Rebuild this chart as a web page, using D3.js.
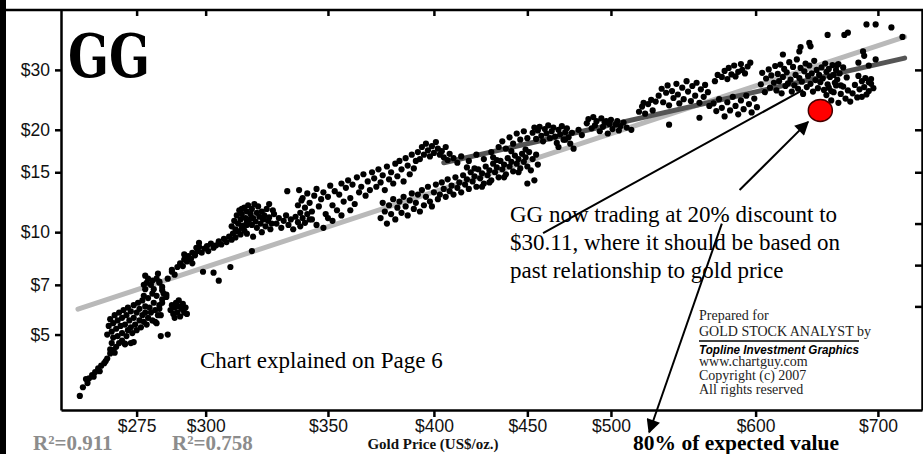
<!DOCTYPE html>
<html><head><meta charset="utf-8">
<script src="https://cdn.jsdelivr.net/npm/d3@7/dist/d3.min.js"></script>
<style>
body{margin:0;background:#fff;}
svg{display:block;}
.tick text{font-family:"Liberation Sans",Arial,sans-serif;font-size:17.5px;fill:#111;}
</style></head>
<body>
<svg id="c" width="923" height="454"></svg>
<script>
// ---- data (gold US$/oz, GG US$) ----
const goldTicks = [275,300,350,400,450,500,600,700];
const ggTicks = [5,7,10,15,20,30];
const rightTicks = [30,20,15,10.6,8,6.05];
const fitAll = [[255.4,5.94],[724,37.5]];      // R²=0.911
const fitRecent = [[405,16.0],[724,32.5]];     // R²=0.758
const currentPoint = [651,22.8];
const r2Labels = ["R²=0.911","R²=0.758"];

const ptsLow = [
[256,3.3],[257,3.5],[258,3.7],[259,3.72],[260,3.8],[261,3.88],[262,3.98],[263,4.05],[264,4.12],[265,4.25],[266,4.4],[267,4.5],[268,4.6],[266.5,4.72],[270,4.8],[271,4.7],[273,4.72],[266,4.52],[262.5,3.9],[264.5,4.18],[267.5,4.42],[269,4.72],[260.5,3.76],[258.5,3.6],
[265,5.0],[265.5,5.3],[266,5.55],[266.5,5.1],[267,4.9],[267,5.4],[267.5,5.7],[268,5.2],[268.5,5.5],[268.5,4.95],[269,5.8],[269.5,5.3],[270,5.05],[270,5.6],[270.5,5.9],[271,5.35],[271.5,4.95],[271.5,5.7],[272,5.15],[272,6.0],[272.5,5.5],[273,5.25],[273,5.85],[273.5,5.05],[274,5.6],[274,6.1],[274.5,5.35],[275,5.8],[275,5.15],[275.5,6.2],[276,5.5],[276,5.95],[276.5,5.25],[277,5.7],[277,6.3],[277.5,5.45],[278,6.05],[278,5.8],[278.5,5.35],[279,6.4],[279,5.6],[279.5,6.0],[280,5.8],[280.5,6.6],[280.5,5.5],[281,6.2],[281.5,5.9],[282,6.5],[282,5.4],[283,6.1],[283.5,5.7],[284,6.35],
[277.5,6.5],[278,6.8],[278.5,7.1],[279,7.3],[278,7.45],[280,7.0],[281,6.8],[282,7.3],[282.5,7.55],[283,7.15],[284,6.9],[284.5,6.6],[285.5,6.45],[284,6.2],[283,5.95],[282.5,5.7],[281.5,5.45],[277.5,7.0],[280.5,7.2],[283,7.1],[284,6.75],[285.5,6.55],
[287,5.9],[287.5,6.1],[288,5.75],[288.5,6.0],[289,6.2],[289.5,5.8],[290,6.05],[290.5,5.65],[291,5.95],[291.5,6.15],[292,5.8],[292.5,6.0],[293,5.75],[290,6.3],[288.5,5.6],
[283.5,4.95],[286,5.0],[271,4.68],[274,4.75],
[286,7.3],[287.5,7.75],[288.5,7.5],[289.5,7.9],[290.5,8.1],[291.5,7.95],[292,8.3],[293,8.2],[293.5,8.5],[294.5,8.35],[295,8.7],[296,8.55],[297,8.8],[297.5,9.05],[298.5,8.7],[299.5,8.95],
[299,7.65],[287.5,7.65],[295,8.1],[296.5,9.0],[297.5,9.3],[292,8.6]
];
const ptsMid = [
[300.5,9.1],[301,8.8],[302,9.25],[303,9.0],[304,9.15],[305,9.4],[306,9.2],[307,9.55],[308,9.35],[309,9.7],[310,9.5],[310.5,9.9],[311.5,9.65],[312.5,10.05],[313.5,9.85],[314,10.3],[315,10.1],[316,10.5],
[303,7.6],[305,7.2],[309.5,7.9],[318,8.8],
[310,10.4],[311,10.8],[311.5,10.2],[312,11.2],[312.5,10.6],[313,11.6],[313.5,10.9],[314,11.3],[314.5,10.45],[315,11.8],[315.5,11.0],[316,10.7],[316,11.5],[316.5,12.0],[317,10.9],[317.5,11.3],[318,10.5],[318,11.7],[318.5,11.0],[319,12.1],[319.5,10.75],[320,11.4],[320,10.3],[320.5,11.9],[321,11.1],[321.5,10.6],[322,11.5],[322.5,10.9],[323,11.2],[323.5,10.4],[324,11.7],[324.5,10.8],[325,11.05],[325.5,10.2],[326,10.6],[327,11.3],
[318.5,9.7],[322,10.0],[316,9.9],[314,11.7],[325,12.1],[326.5,11.6],[332.5,13.2],[337.5,13.3],[338.5,12.4],
[328,10.6],[329,11.0],[330,10.3],[331,10.8],[332,11.2],[333,10.5],[334,10.9],[335,10.2],[336,11.1],[337,10.7],[338,10.4],[339,11.0],[340,10.65],[341,11.3],[342,10.9],
[337,12.0],[338,11.4],[339,12.6],[340,11.8],[341,13.0],[342,12.2],[343,11.5],[344,12.8],[345,13.4],[346,11.9],[347,12.5],[348,13.1],[349,11.3],[350,12.7],[351,13.7],[352,12.0],[353,13.2],[354,11.6],[355,12.9],[356,13.9],[357,12.3],[358,13.5],[359,14.2],[360,12.6],[361,13.8],[362,12.1],[363,14.5],[364,13.1],[365,13.6],[366,14.8],[367,12.8],[368,14.1],[369,13.3],[370,15.0],[371,14.4],[372,13.6],[373,15.3],[374,14.0],[375,14.7],[376,13.3],[377,15.6],[378,14.3],[379,15.0],[380,13.9],[381,15.9],[382,14.6],[383,16.2],[384,15.3],[385,14.1],[386,16.5],[387,15.7],[388,14.8],[389,16.9],[390,15.4],[391,16.2],
[345,10.5],[348,10.3],[352,10.8],[356,11.2],[360,11.6],[343,10.9],[350,11.0],
[392,17.2],[393,16.4],[394,17.8],[395,16.9],[396,18.2],[397,17.4],[398,16.7],[399,17.9],[400,17.1],[401,18.4],[402,17.6],[403,16.9],[404,17.3],[405,16.6],[406,17.8],[407,16.3],[408,17.0],[410,16.5],[412,16.0],
[374,11.0],[375,12.2],[376,11.5],[377,10.6],[378,12.0],[379,11.3],[380,12.5],[381,10.9],[382,11.8],[383,12.3],[384,11.4],
[385,12.7],[386,11.9],[387,11.2],[388,12.4],[389,13.0],[390,11.7],[391,12.2],[392,12.9],[393,11.5],[394,13.3],[395,12.0],[396,12.7],[397,13.6],[398,12.3],[399,11.9],
[400,13.1],[401,13.8],[402,12.5],[403,12.9],[404,14.0],[405,13.4],[406,12.7],[407,14.3],[408,13.2],[409,13.7],[410,12.9],[411,14.5],[412,13.5],[413,14.0],[414,13.1],
[415,14.7],[416,13.8],[417,14.3],[418,13.4],[419,15.0],[420,14.1],[421,14.6],[422,13.6],[423,15.3],[424,14.4],[425,14.9],[426,13.9],[427,15.6],[428,14.7],[429,15.2],
[430,14.2],[431,15.9],[432,15.0],[433,15.5],[434,14.5],[435,16.2],[436,15.3],[437,15.8],[438,14.8],[439,16.5],[440,15.6],[441,16.1],[442,15.1],[443,16.8],[444,15.9],
[445,16.4],[446,15.4],[447,17.0],[448,16.1],[449,16.6],[450,15.6],[451,17.2],[452,15.2],[453,16.4],[455,16.9],[456,15.8],
[421,15.4],[425,13.6],[429,14.0],[433,16.3],[437,14.5],[441,17.3],[445,15.0],[449,17.5],[417,15.5],[450,13.9],[454,14.2]
];
const ptsHigh = [
[414,16.7],[418,16.2],[422,16.9],[426,16.4],[430,17.2],[431,16.6],[434,17.8],[436,18.5],[438,17.6],[440,19.0],[442,18.2],[444,19.5],[446,18.7],[448,19.8],[450,18.9],
[453,19.6],[454,20.3],[455,18.8],[456,19.9],[457,20.4],[458,19.2],[459,18.5],[460,20.1],[461,19.5],[462,20.6],[463,18.9],[464,19.8],[465,20.3],[466,19.1],[467,18.3],[468,20.0],[469,19.4],[470,20.5],[471,18.7],[472,19.7],[473,20.2],[474,19.0],[475,18.2],[476,19.6],[477,17.6],[468,17.8],[472,18.7],[480,20.0],[482,19.3],
[485,20.9],[486,21.5],[488,20.2],[489,21.8],[490,20.6],[491,21.2],[493,19.8],[494,21.6],[495,20.4],[496,21.0],[498,19.5],[499,20.8],[500,21.4],[501,20.1],[503,20.7],[504,21.2],[505,19.9],[506,20.5],[508,21.0],[510,20.3],[497,21.2],[513,20.0],
[518,22.6],[520,23.4],[521,24.0],[522,22.3],[524,23.8],[526,24.5],[527,22.8],[529,24.2],
[531,25.2],[533,26.4],[534,24.1],[536,25.7],[537,27.0],[538,23.6],[540,26.0],[541,24.8],[543,27.3],[544,25.4],[545,23.9],[547,26.6],[548,24.6],[550,27.8],[551,25.9],[553,24.3],[554,26.9],[556,25.2],[557,27.5],[559,24.0],[560,26.3],[562,25.0],[563,27.1],[565,25.8],[566,23.5],
[575,28.6],[577,29.8],[579,28.2],[580,30.4],[582,29.1],[584,30.9],[585,28.7],[587,29.6],[589,31.2],[590,30.0],[592,29.3],[594,30.7],[596,31.5],[570,27.8],[572,29.0],
[559,21.7],[538,20.7],
[569,23.9],[571,22.7],[573,24.6],[575,23.2],[577,21.9],[579,24.1],[581,22.8],[583,25.0],[585,23.5],[587,22.2],[589,24.4],[591,23.0],[593,25.2],[595,23.8],[597,22.5],[599,24.7],[601,23.3],
[604,27.2],[605,29.4],[607,25.8],[608,28.3],[610,30.1],[611,26.6],[612,28.9],[614,27.5],[615,30.8],[616,26.1],[617,29.2],[618,27.8],
[619,31.1],[620,25.6],[621,28.6],[622,30.2],[623,26.9],[624,29.5],[625,27.4],[626,31.6],[627,28.1],[628,25.9],[629,30.6],[630,27.0],[631,29.0],[632,32.2],[633,26.4],[634,28.4],
[635,30.4],[636,27.7],[637,25.5],[638,29.7],[639,31.3],[640,26.7],[641,28.8],[642,30.9],[643,27.3],[644,29.3],[645,25.9],[646,31.9],[647,28.0],[648,30.0],[649,26.5],[650,29.0],[651,27.6],
[652,30.5],[653,28.3],[654,26.2],[655,31.3],[656,29.6],[657,27.2],[658,30.2],[659,28.6],[660,26.0],[661,31.0],[662,29.0],[663,27.5],[664,30.0],[665,28.1],[666,31.2],[667,29.3],[668,27.0],[670,30.5],
[621,33.3],[634,34.0],[635,35.0],[642,36.0],[643,35.2],[657,38.0],[671,38.0],[674,38.6],[690,40.8],[698,40.8],[712,40.0],[722,37.5],[687,34.0],[698,32.2],[692,30.9],[665,31.0],[673,28.5],[683,28.8],[683,31.5],[688,33.0],
[656,25.3],[658,26.6],[660,24.4],[662,25.8],[664,27.0],[666,24.0],[668,25.5],[670,26.8],[672,24.7],[674,26.1],[676,24.2],[678,25.6],[680,27.1],[682,24.9],[684,26.3],[686,25.0],[688,26.7],[690,25.4],[692,26.0],[694,27.3],[696,26.5],
[686,27.8],[689,28.4],[692,27.6],[694,28.2]
];
const scatter = ptsLow.concat(ptsMid, ptsHigh);

// annotation arrows (data units)
const arrowLines = [
  {from:[459,9.94], to:[637,26.2], head:false},
  {from:[588,13.3], to:[641,21.1], head:true},
  {from:[575,10.6], to:[524.7,2.58], head:true}
];
const noteLines = ["GG now trading at 20% discount to","$30.11, where it should be based on","past relationship to gold price"];
const creditLines = ["Prepared for","GOLD STOCK ANALYST by","Topline Investment Graphics","www.chartguy.com","Copyright (c) 2007","All rights reserved"];

// ---- drawing ----
const svg = d3.select("#c");
const W = 923, H = 454;
const x = d3.scaleLog().domain([250,740]).range([61,922]);
const y = d3.scaleLog().domain([3,45]).range([410,10]);

svg.append("rect").attr("width",W).attr("height",H).attr("fill","#fff");

const defs = svg.append("defs");
defs.append("marker").attr("id","ah").attr("viewBox","0 0 10 10")
  .attr("refX",9).attr("refY",5).attr("markerUnits","userSpaceOnUse")
  .attr("markerWidth",17).attr("markerHeight",14).attr("orient","auto")
  .append("path").attr("d","M0,0 L10,5 L0,10 z").attr("fill","#000");

// fit lines
const line = d3.line().x(d=>x(d[0])).y(d=>y(d[1]));
svg.append("path").datum(fitAll).attr("d",line).attr("stroke","#b9b9b9").attr("stroke-width",5).attr("fill","none").attr("stroke-linecap","round");
svg.append("path").datum(fitRecent).attr("d",line).attr("stroke","#555").attr("stroke-width",5).attr("fill","none").attr("stroke-linecap","round");

// dots
svg.append("g").selectAll("circle").data(scatter).join("circle")
  .attr("cx",d=>x(d[0])).attr("cy",d=>y(d[1])).attr("r",3.1).attr("fill","#000");

// current point
svg.append("ellipse").attr("cx",x(currentPoint[0])).attr("cy",y(currentPoint[1]))
  .attr("rx",12).attr("ry",11).attr("fill","#f00").attr("stroke","#400").attr("stroke-width",1.5);

// axes
const fmt = d=>"$"+d;
const gl = svg.append("g").attr("transform","translate(61,0)")
  .call(d3.axisLeft(y).tickValues(ggTicks).tickFormat(fmt).tickSize(6).tickPadding(5).tickSizeOuter(0));
const gb = svg.append("g").attr("transform","translate(0,410)")
  .call(d3.axisBottom(x).tickValues(goldTicks).tickFormat(fmt).tickSize(7).tickPadding(3).tickSizeOuter(0));
const gt = svg.append("g").attr("transform","translate(0,10)")
  .call(d3.axisBottom(x).tickValues(goldTicks).tickFormat("").tickSize(6).tickSizeOuter(0));
const gr = svg.append("g").attr("transform","translate(922,0)")
  .call(d3.axisLeft(y).tickValues(rightTicks).tickFormat("").tickSize(7).tickSizeOuter(0));
[gl,gb,gt,gr].forEach(g=>{
  g.select(".domain").attr("stroke","#000").attr("stroke-width",2.5);
  g.selectAll(".tick line").attr("stroke","#000").attr("stroke-width",2.5);
});
gt.select(".domain").remove();
svg.append("line").attr("x1",0).attr("x2",W).attr("y1",10).attr("y2",10).attr("stroke","#000").attr("stroke-width",2.5);
svg.append("rect").attr("x",0).attr("y",0).attr("width",6).attr("height",H).attr("fill","#000");

// title
svg.append("text").attr("x",68).attr("y",77).text("GG")
  .attr("font-family","'DejaVu Serif','Liberation Serif',serif").attr("font-weight","bold")
  .attr("font-size",60).attr("textLength",82).attr("lengthAdjust","spacingAndGlyphs").attr("fill","#000");

// annotation
const serif = "'Liberation Serif','Times New Roman',serif";
noteLines.forEach((t,i)=>{
  svg.append("text").attr("x",510).attr("y",222+i*28).text(t)
    .attr("font-family",serif).attr("font-size",23).attr("fill","#000");
});
svg.append("text").attr("x",200).attr("y",368).text("Chart explained on Page 6")
  .attr("font-family",serif).attr("font-size",23).attr("fill","#000");

// credits
const cY = [320,336,354,366,380,394];
creditLines.forEach((t,i)=>{
  const tx = svg.append("text").attr("x",699).attr("y",cY[i]).text(t).attr("fill","#222");
  if(i===2){
    tx.attr("font-family","'Liberation Sans',Arial,sans-serif").attr("font-weight","bold").attr("font-style","italic")
      .attr("font-size",12).attr("textLength",160).attr("lengthAdjust","spacingAndGlyphs").attr("fill","#000");
  } else {
    tx.attr("font-family",serif).attr("font-size",14);
  }
});
svg.append("line").attr("x1",699).attr("x2",859).attr("y1",341).attr("y2",341).attr("stroke","#000").attr("stroke-width",1.6);

// arrows
arrowLines.forEach(a=>{
  const l = svg.append("line").attr("x1",x(a.from[0])).attr("y1",y(a.from[1]))
    .attr("x2",x(a.to[0])).attr("y2",y(a.to[1])).attr("stroke","#000").attr("stroke-width",2);
  if(a.head) l.attr("marker-end","url(#ah)");
});

// bottom labels
svg.append("text").attr("x",33).attr("y",450).text(r2Labels[0])
  .attr("font-family",serif).attr("font-weight","bold").attr("font-size",21).attr("fill","#8c8c8c");
svg.append("text").attr("x",172).attr("y",450).text(r2Labels[1])
  .attr("font-family",serif).attr("font-weight","bold").attr("font-size",21).attr("fill","#8c8c8c");
svg.append("text").attr("x",433).attr("y",449).attr("text-anchor","middle").text("Gold Price (US$/oz.)")
  .attr("font-family",serif).attr("font-weight","bold").attr("font-size",15).attr("fill","#111");
svg.append("text").attr("x",633).attr("y",450).text("80% of expected value")
  .attr("font-family",serif).attr("font-weight","bold").attr("font-size",21.5).attr("fill","#000");
</script>
</body></html>
